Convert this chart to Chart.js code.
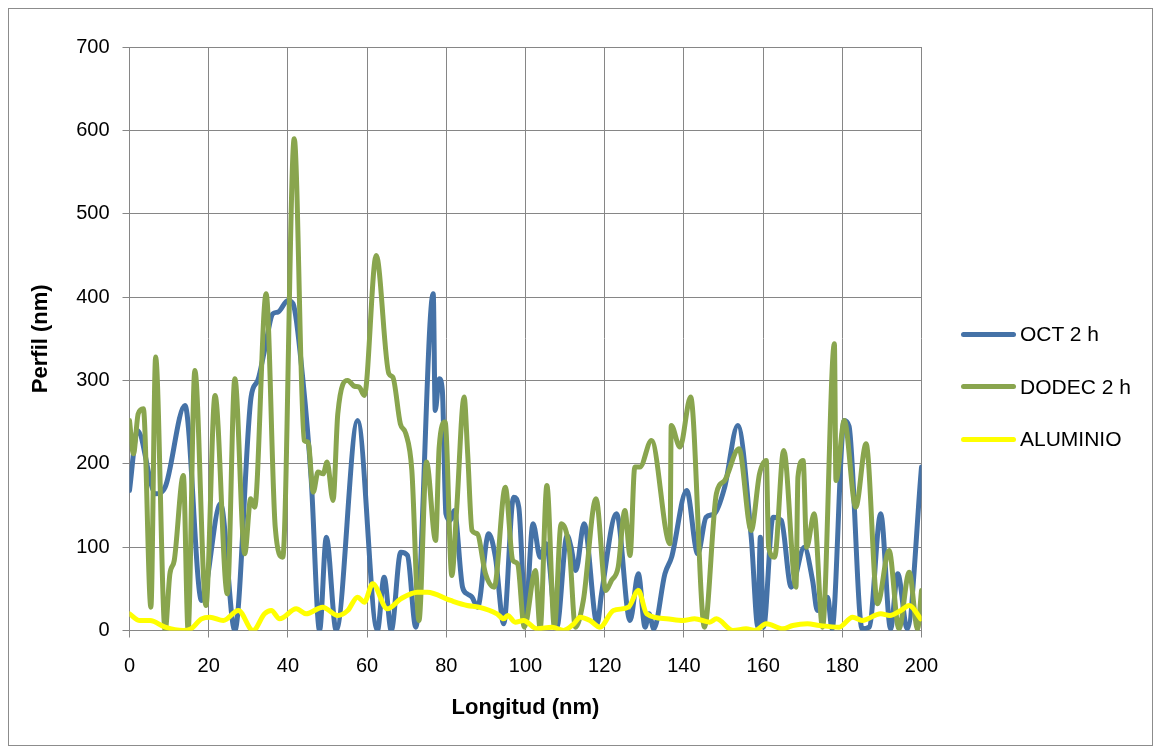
<!DOCTYPE html>
<html>
<head>
<meta charset="utf-8">
<script src="https://cdn.jsdelivr.net/npm/chart.js@4.4.0/dist/chart.umd.min.js"></script>
<style>
  body { margin: 0; background: #fff; font-family: "Liberation Sans", Arial, sans-serif; }
  #wrap { position: relative; width: 1160px; height: 751px; }
  #frame { position: absolute; left: 8px; top: 8px; width: 1143px; height: 736px; border: 1px solid #8c8c8c; pointer-events: none; }
  #legend { position: absolute; left: 961px; top: 308px; }
  .item { display: flex; align-items: center; height: 52.5px; font-size: 21px; color: #000; }
  .swatch { width: 55px; height: 5px; border-radius: 3px; margin-right: 4px; }
</style>
</head>
<body>
<div id="wrap">
  <canvas id="profileChart" width="1160" height="751"></canvas>
  <div id="frame"></div>
  <div id="legend"></div>
</div>
<script>
// OCT 2 h
const octX = [0, 2, 6.6, 9, 14, 18.2, 23, 26.6, 30.7, 32.4, 34.1, 36.2, 37.5, 40, 41.3, 43.8, 45.9, 48, 49.7, 52.2,
  57.6, 62.6, 64.3, 66.1, 68.5, 70.2, 72.3, 76.7, 77.2, 78.2, 79, 79.9, 81, 82, 84.1, 85.3, 86.5, 87.9, 90.7, 92.4,
  94.5, 97, 98.3, 100, 101.9, 103.7, 105.2, 107.9, 110.5, 111.5, 112.7, 114.8, 118.1, 119.2, 123, 126.4, 128.5, 130.2, 131.2, 132.4,
  135.2, 136.9, 140.7, 143.5, 145.6, 147.7, 150.3, 153.6, 157, 158.7, 159.3, 160.1, 162.5, 164.6, 167.1, 170.4, 172.5, 173.7, 176.3, 177.4,
  180.5, 181.7, 185, 186.8, 189.7, 192.2, 194, 196.4, 200];
const octY = [168, 240, 164, 172, 270, 36, 152, 0, 280, 300, 336, 380, 382, 396, 392, 300, 180, 0, 112, 0,
  252, 0, 64, 0, 94, 90, 4, 404, 264, 302, 288, 140, 132, 144, 52, 44, 40, 28, 116, 88,
  8, 160, 148, 20, 128, 88, 104, 4, 114, 100, 72, 128, 8, 44, 140, 12, 68, 4, 20, 2,
  68, 88, 168, 92, 136, 140, 172, 246, 112, 4, 112, 4, 136, 132, 52, 100, 60, 24, 40, 2,
  252, 245, 2, 4, 140, 2, 68, 2, 196];

// DODEC 2 h
const dodecX = [0, 1, 2.2, 3.5, 5.4, 6.6, 9, 10.2, 11.3, 13.6, 14.8, 16.5, 19.3, 21.6, 24.7, 26.6, 29.1, 30.6, 31.6, 34.5,
  36.8, 38.7, 41.6, 44.1, 45.1, 46.4, 47.6, 48.9, 49.9, 51.4, 52.6, 55.1, 56.8, 58, 59.3, 62.3, 65.5, 66.5, 68.4, 69.8,
  71.3, 73.1, 75, 77.3, 78.2, 79.7, 81.4, 82.6, 84.5, 85.4, 86.5, 87.8, 89.9, 92.1, 94.9, 96.8, 98, 99.7, 102.5, 103.7,
  105.4, 107.3, 109, 111.1, 112.6, 114.6, 117.8, 120.3, 121.7, 123.4, 125.1, 126.4, 127.6, 128.9, 131.8, 136.5, 136.8, 139, 141.7, 145.2,
  148.2, 150.3, 153.9, 157, 159.1, 160.8, 161.4, 162.9, 165.2, 168.3, 168.8, 170.1, 171, 172.9, 175, 178, 178.4, 180.5, 183.4, 186,
  188.9, 191.8, 194.3, 196.9, 199, 200];
const dodecY = [252, 212, 260, 266, 28, 328, 0, 68, 84, 186, 0, 312, 30, 282, 44, 302, 92, 158, 148, 404,
  124, 88, 590, 228, 226, 166, 190, 188, 202, 156, 260, 300, 293, 292, 282, 450, 308, 304, 248, 236,
  192, 12, 202, 108, 220, 250, 66, 144, 280, 212, 120, 116, 68, 52, 172, 84, 80, 4, 72, 2,
  174, 4, 128, 96, 4, 36, 158, 48, 60, 76, 144, 90, 196, 196, 228, 104, 246, 220, 280, 4,
  164, 180, 218, 120, 188, 204, 100, 88, 216, 52, 184, 204, 100, 140, 4, 344, 180, 252, 148, 224,
  32, 96, 2, 70, 2, 48];

// ALUMINIO
const aluX = [0, 2.6, 5.2, 9, 13.6, 15.5, 18.2, 20.3, 23.7, 27.5, 31.2, 34.1, 35.8, 37.9, 42.1, 44.6, 48.8, 52.6, 55.1, 57.6,
  59.3, 61.4, 65.1, 68.5, 72.7, 75.2, 81.1, 85.3, 88.2, 92.8, 94.5, 95.5, 97.4, 99.5, 102.9, 106.7, 109.6, 112.2, 113.8, 116.3,
  118.8, 122.2, 126, 128.5, 130.6, 135.6, 139.8, 142.7, 146.5, 148.2, 152.4, 155.7, 158, 160.8, 165, 167.5, 171.2, 174.2, 179.2, 182.6,
  185, 189.7, 192, 194.8, 196.9, 199.8];
const aluY = [20, 12, 12, 4, 0, 2, 14, 16, 12, 24, 0, 20, 24, 14, 26, 20, 28, 18, 24, 40,
  34, 56, 26, 38, 46, 46, 36, 30, 28, 20, 14, 18, 10, 12, 2, 4, 0, 8, 16, 12,
  4, 24, 28, 48, 20, 14, 12, 14, 10, 14, 0, 2, 0, 8, 2, 6, 8, 6, 4, 16,
  12, 20, 18, 24, 30, 14];

const xTicks = [0, 20, 40, 60, 80, 100, 120, 140, 160, 180, 200];
const yTicks = [0, 100, 200, 300, 400, 500, 600, 700];

function toPoints(xs, ys) {
  return xs.map((x, i) => ({ x: x, y: ys[i] }));
}

const gridColor = "#868686";
const tickFont = { family: "Liberation Sans", size: 20 };
const titleFont = { family: "Liberation Sans", size: 22, weight: "bold" };

const series = [
  { label: "OCT 2 h", data: toPoints(octX, octY), color: "#4572A7", order: 3 },
  { label: "DODEC 2 h", data: toPoints(dodecX, dodecY), color: "#89A54E", order: 2 },
  { label: "ALUMINIO", data: toPoints(aluX, aluY), color: "#FFFF00", order: 1 },
];

const config = {
  type: "line",
  data: {
    datasets: series.map((s) => ({
      label: s.label,
      data: s.data,
      borderColor: s.color,
      backgroundColor: s.color,
      borderWidth: 5,
      pointRadius: 0,
      cubicInterpolationMode: "monotone",
      borderCapStyle: "round",
      borderJoinStyle: "round",
      order: s.order,
    })),
  },
  options: {
    responsive: false,
    animation: false,
    layout: { padding: { left: 0, top: 47, right: 238.5, bottom: 0 } },
    plugins: { legend: { display: false }, tooltip: { enabled: false } },
    scales: {
      x: {
        type: "linear",
        min: 0,
        max: 200,
        afterBuildTicks: (axis) => { axis.ticks = xTicks.map((v) => ({ value: v })); },
        afterFit: (axis) => { axis.height = 120.5; },
        ticks: { font: tickFont, color: "#000", padding: 17, maxRotation: 0 },
        grid: { color: gridColor, lineWidth: 1, tickLength: 7 },
        border: { color: gridColor, width: 1 },
        title: { display: true, text: "Longitud (nm)", font: titleFont, color: "#000", padding: { top: 0, bottom: 30 } },
      },
      y: {
        min: 0,
        max: 700,
        afterBuildTicks: (axis) => { axis.ticks = yTicks.map((v) => ({ value: v })); },
        afterFit: (axis) => { axis.width = 129.5; },
        ticks: { font: tickFont, color: "#000", padding: 13 },
        grid: { color: gridColor, lineWidth: 1, tickLength: 7 },
        border: { color: gridColor, width: 1 },
        title: { display: true, text: "Perfil (nm)", font: titleFont, color: "#000", padding: { top: 28, bottom: 0 } },
      },
    },
  },
};

window.addEventListener("load", () => {
  const canvas = document.getElementById("profileChart");
  const chart = new Chart(canvas.getContext("2d"), config);

  // legend in dataset order, built from the chart's datasets
  const legend = document.getElementById("legend");
  for (const ds of chart.data.datasets) {
    const item = document.createElement("div");
    item.className = "item";
    const swatch = document.createElement("span");
    swatch.className = "swatch";
    swatch.style.background = ds.borderColor;
    const text = document.createElement("span");
    text.textContent = ds.label;
    item.appendChild(swatch);
    item.appendChild(text);
    legend.appendChild(item);
  }
});
</script>
</body>
</html>
